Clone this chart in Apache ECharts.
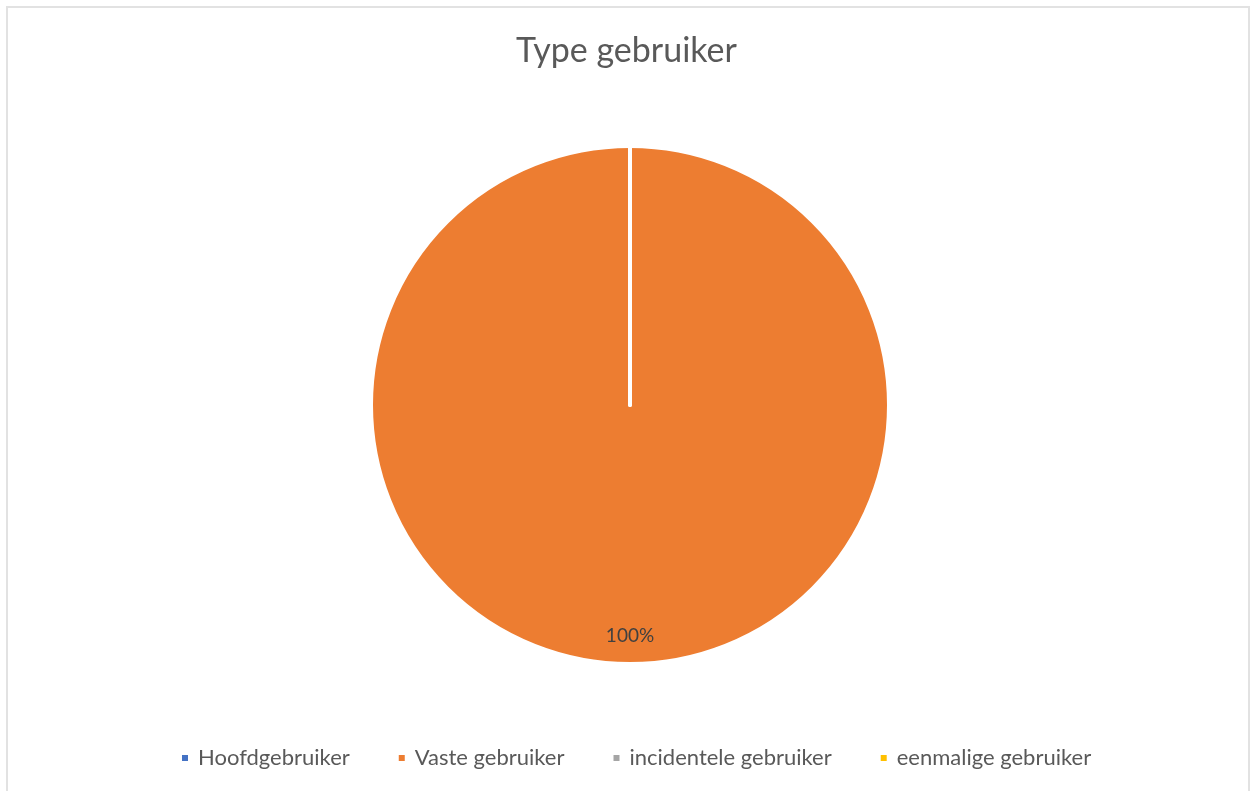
<!DOCTYPE html>
<html>
<head>
<meta charset="utf-8">
<script src="https://cdn.jsdelivr.net/npm/echarts@6/dist/echarts.min.js"></script>
<style>
  html, body { margin: 0; padding: 0; background: #ffffff; }
  body { width: 1253px; height: 791px; overflow: hidden; position: relative; }
  #frame {
    position: absolute; left: 6px; top: 6px; width: 1244px; height: 800px;
    border: 2px solid #e2e2e2; box-sizing: border-box;
  }
  #chart { position: absolute; left: 0; top: 0; width: 1253px; height: 791px; }
</style>
</head>
<body>
<div id="frame"></div>
<div id="chart"></div>
<script>
// User type distribution
const titleText = 'Type gebruiker';
const categories = ['Hoofdgebruiker', 'Vaste gebruiker', 'incidentele gebruiker', 'eenmalige gebruiker'];
const values = [0, 1, 0, 0];
const colors = ['#4472C4', '#ED7D31', '#A5A5A5', '#FFC000'];

const chart = echarts.init(document.getElementById('chart'), null, { renderer: 'canvas' });

const FONT = 'Lato, "Open Sans", sans-serif';

chart.setOption({
  animation: false,
  color: colors,
  title: {
    text: titleText,
    left: 'center',
    top: 29,
    textStyle: { fontFamily: FONT, fontSize: 34, fontWeight: 'normal', color: '#595959' }
  },
  legend: {
    data: categories,
    left: 175,
    top: 742,
    icon: 'rect',
    itemWidth: 8,
    itemHeight: 8,
    itemGap: 47,
    selectedMode: false,
    textStyle: { fontFamily: FONT, fontSize: 22, color: '#595959', padding: [0, 0, 0, 4] }
  },
  series: [{
    type: 'pie',
    center: [630, 405],
    radius: 259,
    startAngle: 90,
    clockwise: true,
    avoidLabelOverlap: false,
    silent: true,
    itemStyle: { borderColor: '#ffffff', borderWidth: 4, borderJoin: 'round', borderCap: 'round' },
    label: {
      show: true,
      position: 'inside',
      formatter: p => (p.value ? Math.round(p.percent) + '%' : ''),
      fontFamily: FONT,
      fontSize: 19,
      color: '#404040'
    },
    labelLine: { show: false },
    labelLayout: { dy: 98 },
    data: categories.map((name, i) => ({ name: name, value: values[i] }))
  }]
});
</script>
</body>
</html>
